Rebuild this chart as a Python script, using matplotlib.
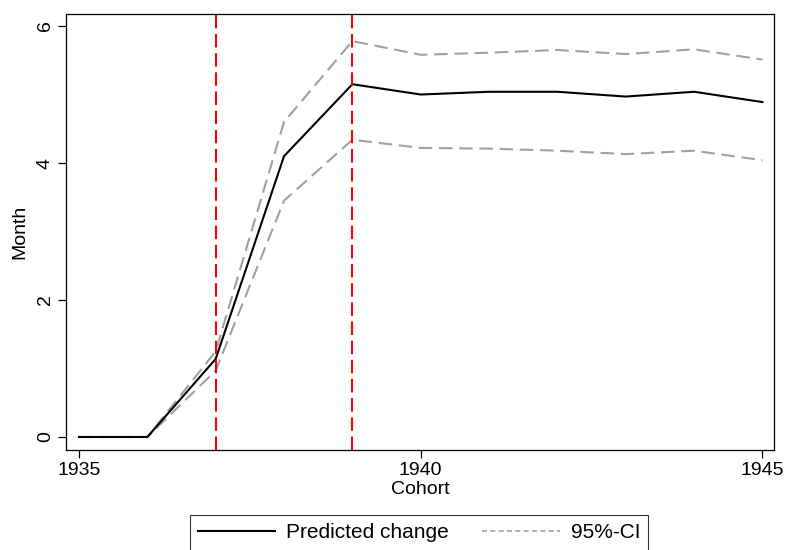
import numpy as np
import matplotlib.pyplot as plt
from matplotlib.lines import Line2D

plt.rcParams['font.family'] = ['Liberation Sans', 'DejaVu Sans']

# データ
cohort = [1935, 1936, 1937, 1938, 1939, 1940, 1941, 1942, 1943, 1944, 1945]
predicted = [0, 0, 1.14, 4.10, 5.15, 5.00, 5.04, 5.04, 4.97, 5.04, 4.89]
ci_upper = [0, 0, 1.25, 4.60, 5.78, 5.58, 5.61, 5.65, 5.59, 5.66, 5.51]
ci_lower = [0, 0, 0.97, 3.45, 4.34, 4.22, 4.21, 4.18, 4.13, 4.18, 4.04]
reform_years = [1937, 1939]

grey = '#a0a0a0'
fs = 14

fig = plt.figure(figsize=(7.86, 5.5), dpi=100)
ax = fig.add_axes([0.084, 0.1818, 0.9008, 0.7927])

ax.plot(cohort, predicted, color='black', lw=1.5, zorder=3)
ax.plot(cohort, ci_upper, color=grey, lw=1.5, dashes=(6.5, 3.2), zorder=2)
ax.plot(cohort, ci_lower, color=grey, lw=1.5, dashes=(6.5, 3.2), zorder=2)
for yr in reform_years:
    ax.axvline(yr, color='#ff0000', lw=1.5, dashes=(6.5, 2.7), zorder=4)

ax.set_xlim(1934.81, 1945.17)
ax.set_ylim(-0.19, 6.175)
ax.set_xticks([1935, 1940, 1945])
ax.set_yticks([0, 2, 4, 6])
ax.tick_params(axis='both', labelsize=fs, length=5.8, width=0.9, color='black', pad=3)
plt.setp(ax.get_yticklabels(), rotation=90, va='center')
ax.set_xlabel('Cohort', fontsize=fs, labelpad=1)
ax.set_ylabel('Month', fontsize=fs, labelpad=6)
for s in ax.spines.values():
    s.set_linewidth(0.9)

# 凡例（Stata風の短い破線）
handles = [Line2D([], [], color='black', lw=1.5),
           Line2D([], [], color=grey, lw=1.2, dashes=(3, 2))]
leg = ax.legend(handles, ['Predicted change', '95%-CI'],
                loc='upper left', bbox_to_anchor=(0.175, -0.149), ncol=2,
                fontsize=15, frameon=True, fancybox=False, edgecolor='black',
                handlelength=3.7, handletextpad=0.53, columnspacing=1.6,
                borderpad=0.4, borderaxespad=0)
leg.get_frame().set_linewidth(0.8)

fig.savefig('out.png', dpi=100)
